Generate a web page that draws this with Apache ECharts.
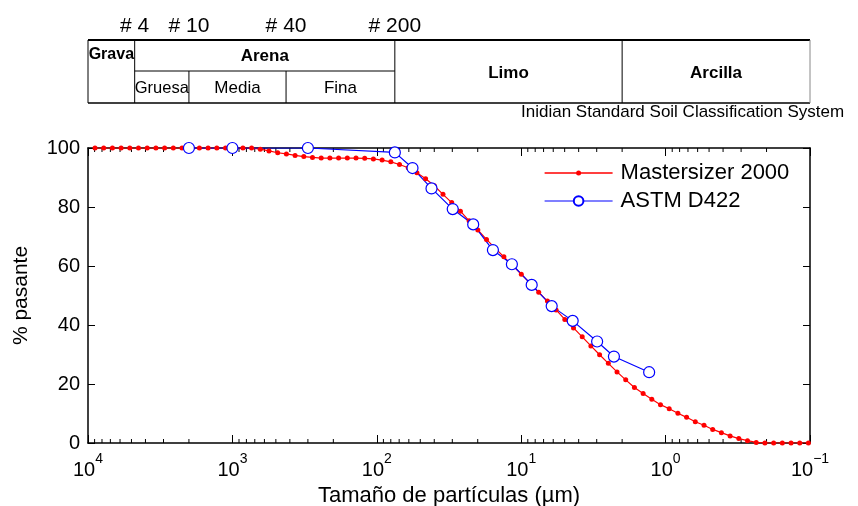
<!DOCTYPE html>
<html>
<head>
<meta charset="utf-8">
<script src="https://cdn.jsdelivr.net/npm/echarts@6/dist/echarts.min.js"></script>
<style>
  html, body { margin: 0; padding: 0; background: #fff; }
  #chart { width: 858px; height: 506px; }
</style>
</head>
<body>
<div id="chart"></div>
<script>
// Mastersizer 2000 size classes (um) and % passing
const sizeMS = [8943, 7785, 6776, 5899, 5134, 4470, 3890, 3386, 2948, 2566,
  2234, 1945, 1693, 1474, 1282, 1116, 971.6, 845.7, 736.2, 640.9,
  557.9, 485.7, 422.7, 368.0, 320.3, 278.8, 242.7, 211.3, 183.9, 160.1,
  139.3, 121.3, 105.6, 91.90, 79.98, 69.63, 60.61, 52.76, 45.92, 39.98,
  34.80, 30.29, 26.36, 22.95, 19.97, 17.39, 15.14, 13.18, 11.47, 9.983,
  8.690, 7.564, 6.584, 5.732, 4.989, 4.343, 3.780, 3.291, 2.864, 2.493,
  2.170, 1.889, 1.644, 1.431, 1.246, 1.085, 0.9441, 0.8219, 0.7155, 0.6228,
  0.5420, 0.4719, 0.4108, 0.3575, 0.3112, 0.2709, 0.2358, 0.2053, 0.1786, 0.1555,
  0.1353, 0.1178, 0.1026]
const passMS = [100, 100, 100, 100, 100, 100, 100, 100, 100, 100,
  100, 100, 100, 100, 100, 100, 100, 100, 100, 99.6,
  99.0, 98.4, 98.0, 97.5, 97.1, 96.8, 96.6, 96.6, 96.6, 96.6,
  96.6, 96.5, 96.3, 95.9, 95.3, 94.4, 93.3, 91.6, 89.6, 87.2,
  84.3, 81.5, 78.6, 75.3, 72.2, 69.0, 66.0, 63.1, 60.2, 57.2,
  54.2, 51.1, 48.1, 45.1, 41.9, 39.0, 36.0, 32.9, 29.9, 27.0,
  24.1, 21.4, 18.8, 16.8, 14.8, 13.0, 11.6, 10.1, 8.7, 7.2,
  6.0, 4.6, 3.5, 2.4, 1.5, 0.8, 0.2, 0, 0, 0,
  0, 0, 0]

// ASTM D422 sieve + hydrometer
const sizeASTM = [2000, 1000, 300, 75, 56.6, 41.8, 29.8, 21.5, 15.7, 11.6, 8.46, 6.15, 4.40, 2.98, 2.28, 1.30]
const passASTM = [100, 100, 100, 98.5, 93.2, 86.3, 79.3, 74.1, 65.4, 60.6, 53.6, 46.4, 41.4, 34.4, 29.3, 24.0]

const seriesNames = ['Mastersizer 2000', 'ASTM D422']
const yTicks = [0, 20, 40, 60, 80, 100]

// soil classification header (um)
const sieveSizes = [4750, 2000, 425, 75]
const sieveLabels = ['# 4', '# 10', '# 40', '# 200']
const clayLimit = 2
const minorMult = [2, 3, 4, 5, 6, 7, 8, 9]
const decades = [0.1, 1, 10, 100, 1000]

const FONT = '"Liberation Sans", Arial, Helvetica, sans-serif'
const minorTicks = decades.flatMap(d => minorMult.map(m => [d * m, 0]))

const chart = echarts.init(document.getElementById('chart'), null, { renderer: 'canvas' })

const xCommon = {
  type: 'log',
  logBase: 10,
  min: 0.1,
  max: 10000,
  inverse: true,
  splitLine: { show: false },
  axisLine: { onZero: false, lineStyle: { color: '#000', width: 1.5 } },
  axisTick: { inside: true, length: 8, lineStyle: { color: '#000', width: 1 } }
}
const yCommon = {
  type: 'value',
  min: yTicks[0],
  max: yTicks[yTicks.length - 1],
  interval: 20,
  splitLine: { show: false },
  axisLine: { show: true, lineStyle: { color: '#000', width: 1.5 } },
  axisTick: { inside: true, length: 7, lineStyle: { color: '#000', width: 1 } }
}

// small-dot legend icon for the red series (68 x 12 box)
const dotIcon = 'path://M0,0L0.01,0L0.01,0.01Z M0,12L0.01,12L0.01,11.99Z ' +
  'M0,5.25L68,5.25L68,6.75L0,6.75Z M31.5,6A2.5,2.5 0 1 1 36.5,6A2.5,2.5 0 1 1 31.5,6Z'

chart.setOption({
  animation: false,
  textStyle: { fontFamily: FONT },
  grid: { left: 88, right: 48, top: 148, bottom: 63, outerBoundsMode: 'none', containLabel: false },
  legend: {
    data: [
      { name: seriesNames[0], icon: dotIcon, itemStyle: { borderWidth: 0 } },
      { name: seriesNames[1], lineStyle: { width: 1.2 } }
    ],
    orient: 'vertical',
    left: 544,
    top: 161,
    padding: 0,
    itemWidth: 68,
    itemHeight: 12,
    itemGap: 4,
    textStyle: { fontSize: 22, color: '#000', fontFamily: FONT, lineHeight: 24, padding: [0, 0, 0, 3] }
  },
  xAxis: [
    Object.assign({}, xCommon, {
      position: 'bottom',
      name: 'Tamaño de partículas (µm)',
      nameLocation: 'middle',
      nameGap: 41,
      nameTextStyle: { fontSize: 22, color: '#000', fontFamily: FONT },
      axisLabel: {
        margin: 9,
        color: '#000',
        formatter: v => {
          const e = Math.round(Math.log10(v))
          return '{b|10}{s|' + (e < 0 ? '\u2212' + (-e) : e) + '}'
        },
        rich: {
          b: { fontSize: 20, fontFamily: FONT, color: '#000', verticalAlign: 'bottom', lineHeight: 28 },
          s: { fontSize: 14, fontFamily: FONT, color: '#000', verticalAlign: 'top', lineHeight: 28 }
        }
      }
    }),
    Object.assign({}, xCommon, { position: 'top', axisLabel: { show: false } })
  ],
  yAxis: [
    Object.assign({}, yCommon, {
      position: 'left',
      name: '% pasante',
      nameLocation: 'middle',
      nameGap: 56,
      nameTextStyle: { fontSize: 21, color: '#000', fontFamily: FONT },
      axisLabel: { fontSize: 20, color: '#000', margin: 8, fontFamily: FONT }
    }),
    Object.assign({}, yCommon, { position: 'right', axisLabel: { show: false } })
  ],
  series: [
    {
      type: 'custom',
      name: 'minor',
      silent: true,
      xAxisIndex: 0,
      yAxisIndex: 0,
      data: minorTicks,
      encode: { x: 0, y: 1 },
      renderItem: (params, api) => {
        const v = api.value(0)
        const b = api.coord([v, 0])
        const t = api.coord([v, 100])
        const st = { stroke: '#000', lineWidth: 1 }
        return {
          type: 'group',
          children: [
            { type: 'line', shape: { x1: b[0], y1: b[1], x2: b[0], y2: b[1] - 4 }, style: st },
            { type: 'line', shape: { x1: t[0], y1: t[1], x2: t[0], y2: t[1] + 4 }, style: st }
          ]
        }
      }
    },
    {
      type: 'line',
      name: seriesNames[0],
      data: sizeMS.map((s, i) => [s, passMS[i]]),
      symbol: 'circle',
      symbolSize: 5,
      showSymbol: true,
      showAllSymbol: true,
      lineStyle: { color: '#ff0000', width: 1.2 },
      itemStyle: { color: '#ff0000' }
    },
    {
      type: 'line',
      name: seriesNames[1],
      data: sizeASTM.map((s, i) => [s, passASTM[i]]),
      symbol: 'circle',
      symbolSize: 11,
      showSymbol: true,
      lineStyle: { color: '#0000ff', width: 1.2 },
      itemStyle: { color: '#ffffff', borderColor: '#0000ff', borderWidth: 1.2 }
    }
  ]
})

// header table, placed on the same log scale as the x axis
const px = v => chart.convertToPixel({ xAxisIndex: 0 }, v)
const xL = px(10000)
const xR = px(0.1)
const xs = sieveSizes.map(px)
const xClay = px(clayLimit)
const yTop = 40
const yMid = 71
const yBot = 103
const blk = { stroke: '#000', lineWidth: 1 }
const line = (x1, y1, x2, y2, style) => ({ type: 'line', silent: true, shape: { x1, y1, x2, y2 }, style: style || blk })
const txt = (x, y, text, size, bold, align) => ({
  type: 'text', silent: true, x, y,
  style: { text, fontSize: size, fontWeight: bold ? 'bold' : 'normal', fontFamily: FONT, fill: '#000', align: align || 'center', verticalAlign: 'middle' }
})

const graphics = [
  line(xL, yTop, xR, yTop, { stroke: '#000', lineWidth: 2 }),
  line(xL, yBot, xR, yBot, { stroke: '#000', lineWidth: 1.5 }),
  line(xs[0], yMid, xs[3], yMid),
  line(xL, yTop, xL, yBot),
  line(xs[0], yTop, xs[0], yBot),
  line(xs[1], yMid, xs[1], yBot),
  line(xs[2], yMid, xs[2], yBot),
  line(xs[3], yTop, xs[3], yBot),
  line(xClay, yTop, xClay, yBot),
  line(xR, yTop, xR, yBot, { stroke: '#888', lineWidth: 1 }),
  txt((xL + xs[0]) / 2, 55, 'Grava', 16, true),
  txt((xs[0] + xs[3]) / 2, 56, 'Arena', 17, true),
  txt((xs[0] + xs[1]) / 2, 88, 'Gruesa', 16.5, false),
  txt((xs[1] + xs[2]) / 2, 88, 'Media', 17, false),
  txt((xs[2] + xs[3]) / 2, 88, 'Fina', 17, false),
  txt((xs[3] + xClay) / 2, 73, 'Limo', 17, true),
  txt((xClay + xR) / 2, 73, 'Arcilla', 17, true),
  txt(521, 112, 'Inidian Standard Soil Classification System', 17, false, 'left')
]
sieveLabels.forEach((l, i) => graphics.push(txt(xs[i], 26, l, 21, false)))

chart.setOption({ graphic: graphics })
</script>
</body>
</html>
